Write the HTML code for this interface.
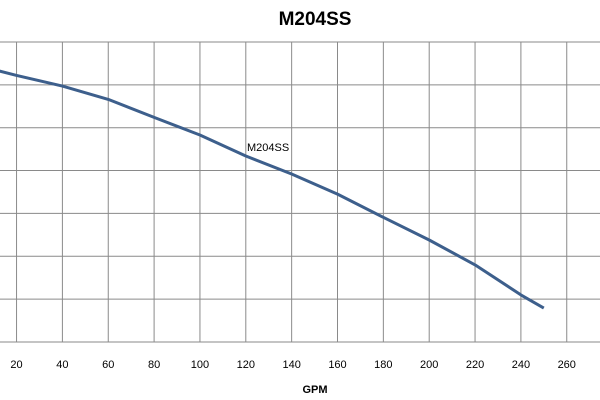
<!DOCTYPE html>
<html><head><meta charset="utf-8"><style>
html,body{margin:0;padding:0;background:#fff;}
svg{display:block;font-family:"Liberation Sans",sans-serif;}
</style></head><body>
<svg id="chart" width="600" height="400">
<text x="315" y="25" text-anchor="middle" font-size="19" font-weight="bold" fill="#000">M204SS</text>
<g id="grid"></g>
<g id="xticks"></g>
<text x="315" y="393" text-anchor="middle" font-size="11" font-weight="bold" fill="#000">GPM</text>
<path id="curve" fill="none" stroke="#3d5f8c" stroke-width="3" stroke-linejoin="round"></path>
<text x="247" y="151" font-size="11" fill="#000">M204SS</text>
</svg>
<script>
const xTicks=[20,40,60,80,100,120,140,160,180,200,220,240,260];
const yGrid=[0,10,20,30,40,50,60,70];
const gpm=[0,20,40,60,80,100,120,140,160,180,200,220,240,250];
const head=[64.9,62.2,59.7,56.6,52.4,48.3,43.4,39.2,34.5,29.1,23.8,18.0,11.0,7.9];
const NS="http://www.w3.org/2000/svg";
function xs(v){return -29.3+v*45.85/20;}
function ys(v){return 342-v*4.286;}
const grid=document.getElementById('grid');
yGrid.forEach(v=>{
const l=document.createElementNS(NS,'line');


l.setAttribute('x1',0);l.setAttribute('x2',600);
l.setAttribute('y1',ys(v));l.setAttribute('y2',ys(v));
l.setAttribute('stroke','#8a8a8a');l.setAttribute('stroke-width','1');
grid.appendChild(l);
});
const xt=document.getElementById('xticks');
xTicks.forEach(v=>{
const l=document.createElementNS(NS,'line');


l.setAttribute('x1',xs(v));l.setAttribute('x2',xs(v));
l.setAttribute('y1',ys(70));l.setAttribute('y2',ys(0));
l.setAttribute('stroke','#8a8a8a');l.setAttribute('stroke-width','1');
grid.appendChild(l);
const t=document.createElementNS(NS,'text');


t.setAttribute('x',xs(v));t.setAttribute('y',368);
t.setAttribute('text-anchor','middle');t.setAttribute('font-size','11');
t.textContent=v;
xt.appendChild(t);
});
document.getElementById('curve').setAttribute('d',gpm.map((g,i)=>(i?'L':'M')+xs(g).toFixed(1)+','+ys(head[i]).toFixed(1)).join(' '));
</script>
</body></html>
